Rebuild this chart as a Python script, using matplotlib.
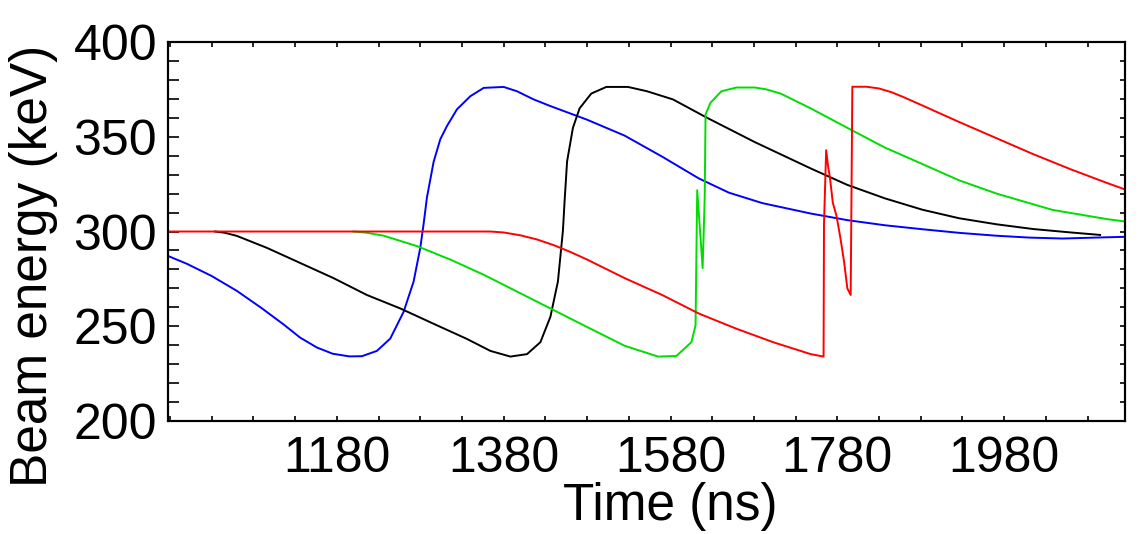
import matplotlib
matplotlib.use("Agg")
import matplotlib.pyplot as plt
from matplotlib.ticker import FixedLocator, MultipleLocator

plt.rcParams["font.family"] = ["Liberation Sans", "DejaVu Sans"]

# Beam energy (keV) vs time (ns) for four bunches
blue_t = [977, 1000, 1030, 1060, 1090, 1116, 1136, 1156, 1175, 1195, 1210,
          1228, 1244, 1260, 1272, 1280, 1284, 1288, 1296, 1304, 1312, 1324,
          1340, 1356, 1380, 1396, 1416, 1436, 1480, 1525, 1570, 1614, 1650,
          1690, 1748, 1792, 1837, 1882, 1926, 1970, 2010, 2050, 2090, 2125]
blue_e = [287.2, 283.0, 276.5, 268.7, 259.5, 251.0, 244.0, 238.8, 235.5,
          234.1, 234.2, 237.0, 243.5, 257.6, 273.6, 291.4, 304.0, 318.0,
          336.8, 348.7, 355.7, 364.5, 371.4, 375.8, 376.3, 374.0, 369.7,
          366.2, 359.0, 350.6, 339.5, 328.0, 320.5, 315.0, 309.5, 306.0,
          303.3, 301.2, 299.3, 297.8, 296.8, 296.3, 296.8, 297.2]

black_t = [1034, 1045, 1060, 1096, 1136, 1176, 1216, 1256, 1296, 1336, 1364,
           1388, 1408, 1424, 1436, 1445, 1451, 1453, 1456, 1463, 1471, 1485,
           1503, 1529, 1552, 1583, 1623, 1681, 1748, 1792, 1837, 1882, 1926,
           1971, 2015, 2060, 2095]
black_e = [300.0, 299.4, 297.7, 291.4, 283.4, 275.4, 266.5, 259.4, 251.3,
           243.3, 237.0, 234.0, 235.3, 241.6, 255.0, 273.6, 300.4, 316.0,
           337.0, 354.7, 365.0, 372.8, 376.3, 376.3, 374.0, 369.7, 360.2,
           347.2, 333.3, 324.6, 317.5, 311.5, 307.0, 303.8, 301.3, 299.5,
           298.2]

green_t = [1200, 1215, 1236, 1276, 1316, 1356, 1396, 1436, 1480, 1525, 1565,
           1587, 1605, 1610, 1612, 1618.5, 1621, 1622, 1628, 1641, 1659, 1681,
           1695, 1712, 1748, 1792, 1837, 1882, 1926, 1971, 2038, 2104, 2125]
green_e = [300.0, 299.4, 297.8, 292.3, 285.2, 277.2, 268.3, 259.4, 249.6,
           239.7, 234.0, 234.3, 241.6, 250.4, 321.8, 280.7, 318.0, 361.8,
           368.0, 374.0, 376.0, 376.0, 375.0, 372.8, 365.0, 354.7, 344.3,
           335.6, 327.0, 320.0, 311.4, 306.5, 305.3]

red_t = [977, 1364, 1380, 1400, 1420, 1440, 1460, 1480, 1525, 1570, 1614,
         1659, 1703, 1748, 1763.5, 1764, 1766.6, 1769, 1771, 1774.6, 1779,
         1783.6, 1788, 1792, 1796, 1798, 1815, 1830, 1845, 1860, 1882, 1926,
         1971, 2015, 2060, 2104, 2125]
red_e = [300.0, 300.0, 299.5, 298.0, 295.8, 292.8, 289.2, 285.2, 275.4,
         266.5, 256.7, 248.7, 241.6, 235.3, 234.0, 303.8, 342.9, 334.1,
         328.9, 315.1, 308.3, 296.8, 284.3, 270.0, 266.5, 376.4, 376.4,
         375.5, 373.5, 370.8, 366.5, 357.8, 349.2, 340.8, 332.8, 325.5,
         322.2]

x_labels = [1180, 1380, 1580, 1780, 1980]
y_labels = [200, 250, 300, 350, 400]

fig = plt.figure(figsize=(11.39, 5.34), dpi=100)
ax = fig.add_axes([0.1471, 0.2116, 0.8407, 0.7097])

lw = 1.4
ax.plot(blue_t, blue_e, color="#0000ff", lw=lw)
ax.plot(black_t, black_e, color="black", lw=lw)
ax.plot(green_t, green_e, color="#00dd00", lw=lw)
ax.plot(red_t, red_e, color="#ff0000", lw=lw)

ax.set_xlim(977, 2125)
ax.set_ylim(200, 400)

ax.xaxis.set_major_locator(FixedLocator(x_labels))
ax.xaxis.set_minor_locator(MultipleLocator(50, offset=30))
ax.yaxis.set_major_locator(FixedLocator(y_labels))
ax.yaxis.set_minor_locator(MultipleLocator(10))

ax.tick_params(axis="x", which="both", direction="in", top=True,
               length=3.3, width=1.2, labelsize=36, pad=11)
ax.tick_params(axis="y", which="both", direction="in", right=False,
               length=8, width=1.2, labelsize=36, pad=7.5)

# short inward ticks along the right edge
rax = ax.twinx()
rax.set_ylim(ax.get_ylim())
rax.yaxis.set_major_locator(MultipleLocator(10))
rax.tick_params(axis="y", direction="in", length=3.6, width=1.2,
                labelright=False)

for a in (ax, rax):
    for sp in a.spines.values():
        sp.set_linewidth(1.5)

ax.set_xlabel("Time (ns)", fontsize=37, va="center")
ax.xaxis.set_label_coords(0.5248, -0.226)
ax.set_ylabel("Beam energy (keV)", fontsize=37, va="center")
ax.yaxis.set_label_coords(-0.1405, 0.409)

fig.savefig("out.png", dpi=100)
